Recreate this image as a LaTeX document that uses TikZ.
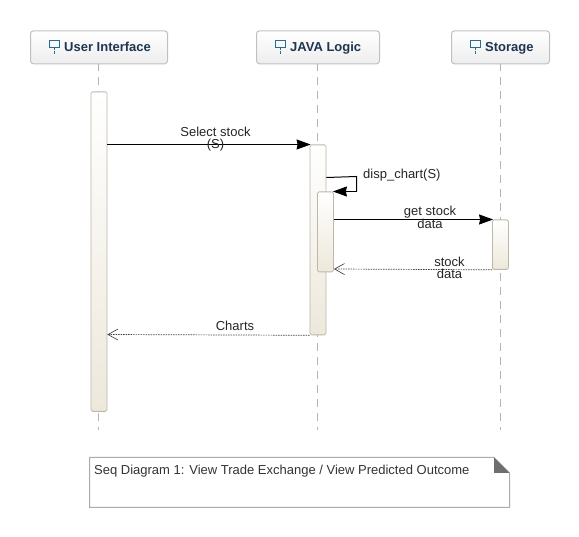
\documentclass[tikz,border=0pt]{standalone}
\usepackage{fontspec}
\setmainfont{Liberation Sans}
\usetikzlibrary{arrows.meta,calc}
\definecolor{headtxt}{HTML}{1D3650}
\definecolor{iconc}{HTML}{2A6C8E}
\definecolor{headline}{HTML}{BDC1C4}
\definecolor{actline}{HTML}{BDB7A8}
\definecolor{actbot}{HTML}{EDE8DB}
\definecolor{lifec}{HTML}{B4B4B4}
\definecolor{notec}{HTML}{ABABAB}
\definecolor{notefold}{HTML}{6E6E6E}
\definecolor{notetxt}{HTML}{333333}
\tikzset{
  headbox/.style={draw=headline,line width=1pt,rounded corners=3pt,top color=white,bottom color=black!7,minimum height=33pt,inner sep=0pt,anchor=north west},
  headlabel/.style={font=\bfseries\fontsize{13}{15}\selectfont,text=headtxt,inner sep=0pt,anchor=base west},
  activ/.style={draw=actline,line width=.8pt,rounded corners=1.5pt,top color=white,bottom color=actbot,minimum width=16pt,inner sep=0pt,anchor=north},
  lifeline/.style={draw=lifec,line width=.8pt,dash pattern=on 8pt off 6pt},
  msg/.style={draw=black,line width=1pt,-{Stealth[length=14pt,width=10pt,inset=1pt]},shorten >=-1pt},
  ret/.style={draw=black!75,line width=.7pt,dash pattern=on 1.5pt off 1pt,-{Straight Barb[length=10pt,width=11pt,line width=.6pt,black!80]}},
  lab/.style={font=\fontsize{13}{12}\selectfont,text=black!85,align=center,inner sep=0pt},
  iconp/.style={draw=iconc,line width=.9pt},
}
\newcommand{\headicon}[2]{%
  \draw[iconp] (#1,#2) rectangle ++(10,6.5);
  \draw[iconp,dash pattern=on 3pt off 1.5pt] (#1+5,#2+6.5) -- ++(0,7);
}
\begin{document}
\begin{tikzpicture}[x=1pt,y=-1pt]
\useasboundingbox[fill=white] (0,0) rectangle (579,537);
% lifelines
\coordinate (l1a) at (98.5,63); \coordinate (l1b) at (98.5,430);
\coordinate (l2a) at (317.5,63); \coordinate (l2b) at (317.5,430);
\coordinate (l3a) at (500.5,63); \coordinate (l3b) at (500.5,430);
\draw[lifeline] (l1a) -- (l1b);
\draw[lifeline] (l2a) -- (l2b);
\draw[lifeline] (l3a) -- (l3b);
% heads
\node[headbox,minimum width=137pt] (ui) at (30,30.3) {};
\node[headbox,minimum width=123pt] (jl) at (256,30.3) {};
\node[headbox,minimum width=98pt] (st) at (451,30.3) {};
\headicon{49}{40.5}
\headicon{275}{40.5}
\headicon{470}{40.5}
\node[headlabel] (uit) at (64,52) {User Interface};
\node[headlabel] (jlt) at (290,52) {JAVA Logic};
\node[headlabel] (stt) at (485,52) {Storage};
% activations
\node[activ,minimum height=319.5pt] (au) at (99,91.5) {};
\node[activ,minimum height=190pt] (aj) at (318,144.5) {};
\node[activ,minimum height=80pt] (ai) at (325.5,191.5) {};
\node[activ,minimum height=49.5pt] (as) at (500.5,219.5) {};
% messages
\draw[msg] (au.east |- 0,144.5) -- (aj.north west);
\coordinate (selfa) at (356.5,176.5);
\coordinate (selfb) at (356.5,191.5);
\draw[draw=black,line width=1pt] (aj.east |- 0,177.5) -- (selfa) -- (selfb);
\draw[msg] (selfb) -- (ai.north east);
\draw[msg] (ai.east |- 0,219.5) -- (as.north west);
\draw[ret] (as.south west) -- (ai.east |- 0,269);
\draw[ret] (aj.south west) -- (au.east |- 0,334.5);
% labels
\node[lab] (m1) at (215.5,139) {Select stock\\(S)};
\node[lab,anchor=west] (m2) at (363,175.5) {disp\_chart(S)};
\node[lab] (m3) at (430,217.5) {get stock\\data};
\node[lab] (m4) at (449.5,267.5) {stock\\data};
\node[lab] (m5) at (235,325.5) {Charts};
% note
\coordinate (na) at (89.5,457.5);
\coordinate (nb) at (494,457.5);
\coordinate (nc) at (509.5,473);
\coordinate (nd) at (509.5,507.5);
\coordinate (ne) at (89.5,507.5);
\draw[draw=notec,line width=1pt] (na) -- (nb) -- (nc) -- (nd) -- (ne) -- cycle;
\fill[notefold] (nb) -- (nc) -- (nb |- nc) -- cycle;
\node[font=\fontsize{13}{15}\selectfont,text=notetxt,inner sep=0pt,anchor=base west] (nt) at (94,475) {Seq Diagram 1: View Trade Exchange / View Predicted Outcome};
\end{tikzpicture}
\end{document}
